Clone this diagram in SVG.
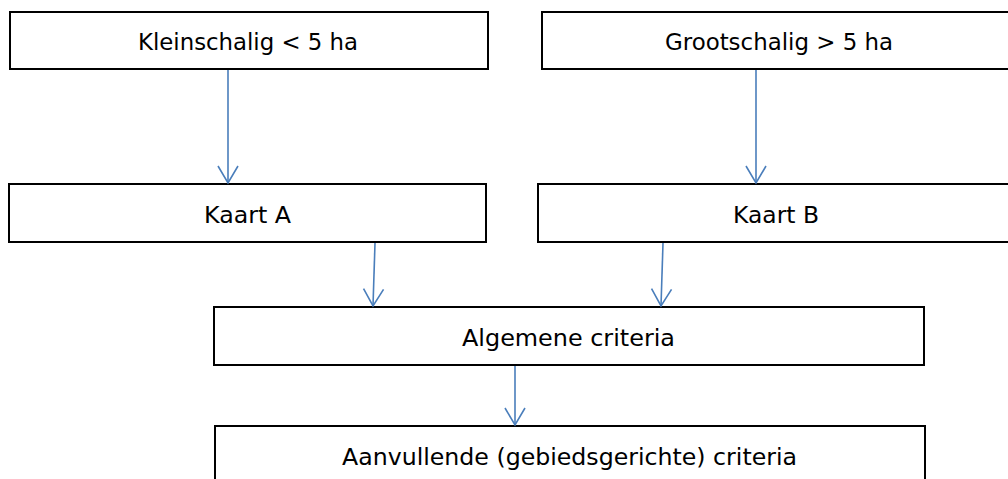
<svg xmlns="http://www.w3.org/2000/svg" width="1008" height="479" viewBox="0 0 1008 479">
<style>
.box{fill:#fff;stroke:#000;stroke-width:2}
.lbl{font-family:"DejaVu Sans","Liberation Sans",sans-serif;font-size:23px;fill:#000;text-anchor:middle}
.con{stroke:#4A7EBB;stroke-width:1.6;fill:none;marker-end:url(#ah)}
</style>
<defs>
<marker id="ah" markerUnits="userSpaceOnUse" viewBox="-20 -12 22 24" refX="0" refY="0" markerWidth="22" markerHeight="24" orient="auto" overflow="visible">
<path d="M-17,-10 L0,0 L-17,10" fill="none" stroke="#4A7EBB" stroke-width="1.6"/>
</marker>
</defs>
<rect width="1008" height="479" fill="#fff"/>
<g id="klein">
<rect class="box" x="10" y="12" width="478" height="57"/>
<text class="lbl" x="248" y="50" textLength="220" lengthAdjust="spacingAndGlyphs">Kleinschalig &lt; 5 ha</text>
</g>
<g id="groot">
<rect class="box" x="542" y="12" width="480" height="57"/>
<text class="lbl" x="779" y="50" textLength="228" lengthAdjust="spacingAndGlyphs">Grootschalig &gt; 5 ha</text>
</g>
<g id="kaartA">
<rect class="box" x="9" y="184" width="477" height="58"/>
<text class="lbl" x="247.5" y="223" textLength="87" lengthAdjust="spacingAndGlyphs">Kaart A</text>
</g>
<g id="kaartB">
<rect class="box" x="538" y="184" width="484" height="58"/>
<text class="lbl" x="776" y="223" textLength="86" lengthAdjust="spacingAndGlyphs">Kaart B</text>
</g>
<g id="algemeen">
<rect class="box" x="214" y="307" width="710" height="58"/>
<text class="lbl" x="568.5" y="346" textLength="213" lengthAdjust="spacingAndGlyphs">Algemene criteria</text>
</g>
<g id="aanvullend">
<rect class="box" x="215" y="426" width="710" height="70"/>
<text class="lbl" x="569.5" y="465" textLength="455" lengthAdjust="spacingAndGlyphs">Aanvullende (gebiedsgerichte) criteria</text>
</g>
<g id="connectors">
<line class="con" x1="228" y1="70" x2="228" y2="183"/>
<line class="con" x1="756" y1="70" x2="756" y2="183"/>
<line class="con" x1="375" y1="243" x2="373" y2="306"/>
<line class="con" x1="663" y1="243" x2="661" y2="306"/>
<line class="con" x1="515" y1="366" x2="515" y2="425"/>
</g>
</svg>
